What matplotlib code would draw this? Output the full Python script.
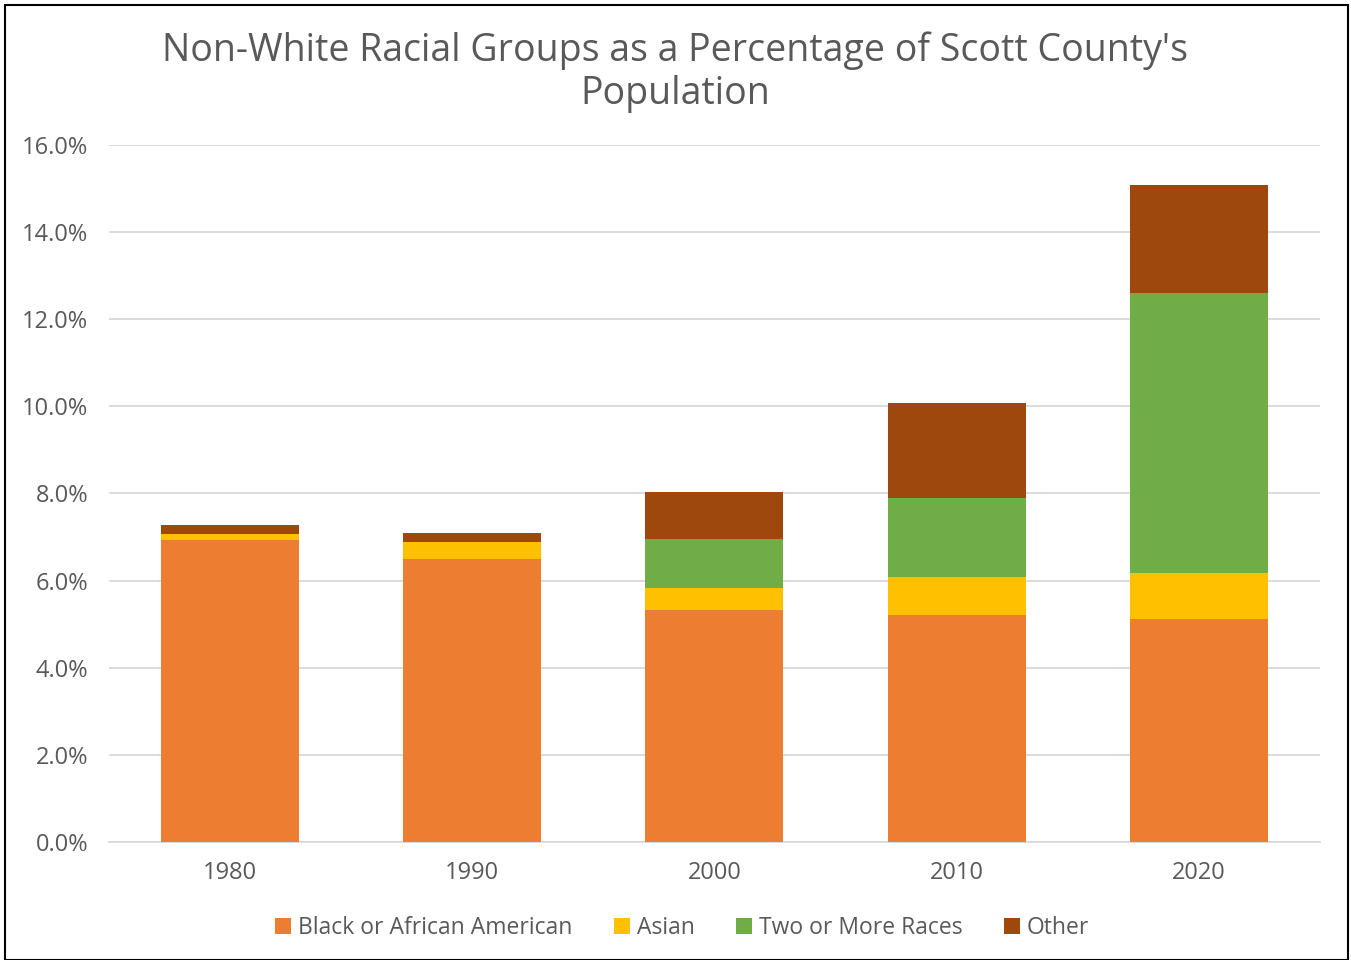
import matplotlib
matplotlib.use('Agg')
import matplotlib.pyplot as plt
import numpy as np
from matplotlib.patches import Rectangle

years = ['1980', '1990', '2000', '2010', '2020']
black = [6.94, 6.50, 5.33, 5.21, 5.13]
asian = [0.13, 0.39, 0.49, 0.88, 1.05]
two_more = [0.0, 0.0, 1.14, 1.81, 6.42]
other = [0.20, 0.20, 1.08, 2.18, 2.48]

series = [
    ('Black or African American', black, '#ed7d31'),
    ('Asian', asian, '#ffc000'),
    ('Two or More Races', two_more, '#70ad47'),
    ('Other', other, '#9e480e'),
]

plt.rcParams['font.family'] = ['Open Sans', 'DejaVu Sans']
text_col = '#595959'

fig = plt.figure(figsize=(13.51, 9.6), dpi=100)
ax = fig.add_axes([0.0807, 0.1229, 0.8963, 0.7261])

x = np.arange(len(years))
bottom = np.zeros(len(years))
for name, vals, col in series:
    ax.bar(x, vals, 0.57, bottom=bottom, color=col, label=name, zorder=3)
    bottom += np.array(vals)

ax.set_xlim(-0.5, 4.5)
ax.set_ylim(0, 16)
ax.set_yticks(np.arange(0, 17, 2))
ax.set_yticklabels([f'{v:.1f}%' for v in np.arange(0, 17, 2)])
ax.set_xticks(x)
ax.set_xticklabels(years)
ax.tick_params(axis='both', length=0, labelsize=17, colors=text_col)
ax.tick_params(axis='x', pad=14)
ax.tick_params(axis='y', pad=15)
ax.grid(axis='y', color='#d9d9d9', linewidth=1.3, zorder=0)
for s in ['top', 'right', 'left']:
    ax.spines[s].set_visible(False)
ax.spines['bottom'].set_color('#d9d9d9')
ax.spines['bottom'].set_linewidth(1.3)

fig.suptitle("Non-White Racial Groups as a Percentage of Scott County's\nPopulation",
             fontsize=27, color=text_col, y=0.967, linespacing=1.15)

fig.legend(loc='center', bbox_to_anchor=(0.505, 0.033), ncol=4, frameon=False,
           fontsize=16.5, handlelength=0.7, handleheight=0.7, handletextpad=0.3,
           columnspacing=1.8, labelcolor=text_col)

fig.patches.append(Rectangle((0.004, 0.0), 0.994, 0.995, transform=fig.transFigure,
                             fill=False, edgecolor='black', linewidth=1.5))

fig.savefig('out.png', dpi=100)
